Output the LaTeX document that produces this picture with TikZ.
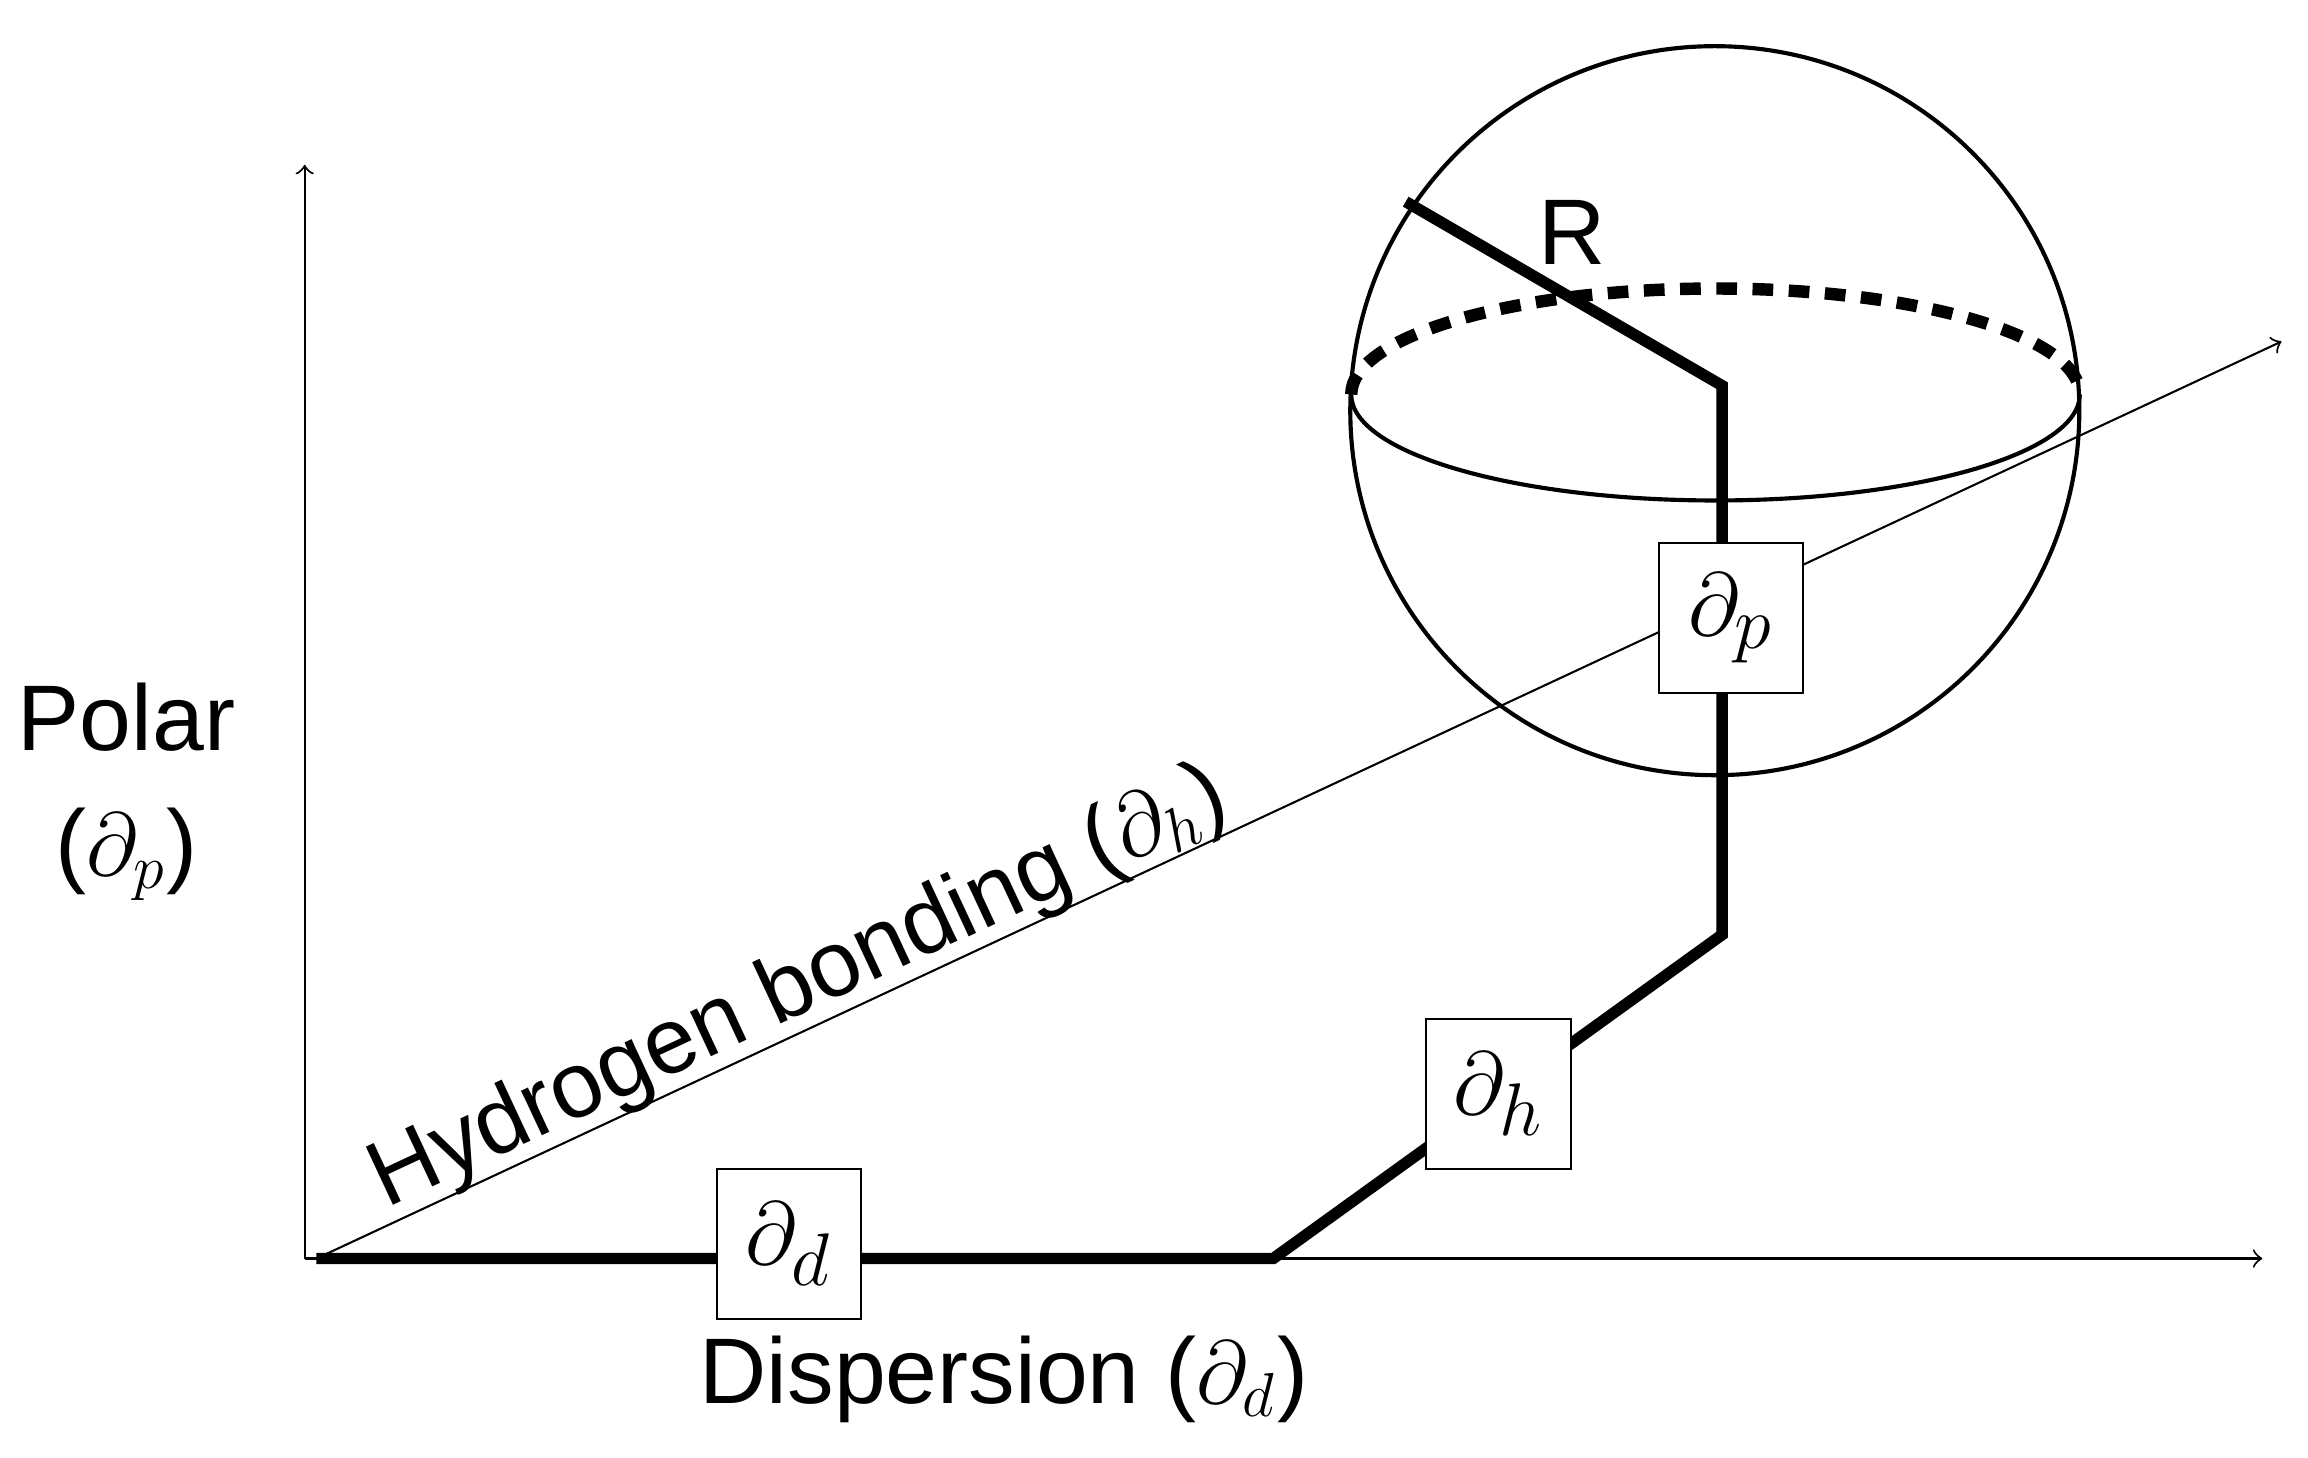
\documentclass[tikz,border=0pt]{standalone}
\usepackage{fontspec}
\setmainfont{Liberation Sans}
\begin{document}
\begin{tikzpicture}[x=0.01cm,y=-0.01cm]
  \tikzset{
    axis/.style={->,thin},
    path/.style={line width=2.2pt},
    term/.style={
      rectangle,
      draw=black, thin,
      fill=white,
      minimum width=0.98cm,
      minimum height=1.02cm,
      inner sep=0,
      font=\fontsize{19}{22}\selectfont,
      },
    label/.style={font=\fontsize{18}{24}\selectfont},
  }
  \useasboundingbox (0,0) rectangle (1568,990);

  % axes
  \coordinate (origin) at (207,855);
  \coordinate (ytip) at (207,112);
  \coordinate (xtip) at (1537,855);
  \coordinate (htail) at (215,855);
  \coordinate (htip) at (1550,232);
  \draw[axis] (origin) -- (ytip);
  \draw[axis] (origin) -- (xtip);
  \draw[axis] (htail) -- (htip);

  % sphere
  \node[circle, draw, thick, minimum size=4.95cm, inner sep=0] (sphere) at (1165,279) {};
  \draw[thick] (918,268) arc[start angle=180, end angle=0, x radius=247.5, y radius=72];
  \draw[line width=2.4pt, dash pattern=on 4pt off 3pt] (918,268) arc[start angle=180, end angle=360, x radius=247.5, y radius=72];

  % path
  \coordinate (p0) at (215,855);
  \coordinate (p1) at (865,855);
  \coordinate (p2) at (1170,635);
  \coordinate (p3) at (1170,262);
  \coordinate (p4) at (955,137);
  \draw[path] (p0) -- (p1) -- (p2) -- (p3) -- (p4);

  \node[label] (radius) at (1068,158) {R};

  \node[term] (dp) at (1176,420) {$\partial_p$};
  \node[term] (dh) at (1018,743) {$\partial_h$};
  \node[term] (dd) at (536,845) {$\partial_d$};

  % labels
  \node[label, align=center] (polar) at (86,538) {Polar\\($\partial_p$)};
  \node[label, rotate=25] (hbond) at (543,672) {Hydrogen bonding ($\partial_h$)};
  \node[label] (disp) at (682,937) {Dispersion ($\partial_d$)};
\end{tikzpicture}
\end{document}
